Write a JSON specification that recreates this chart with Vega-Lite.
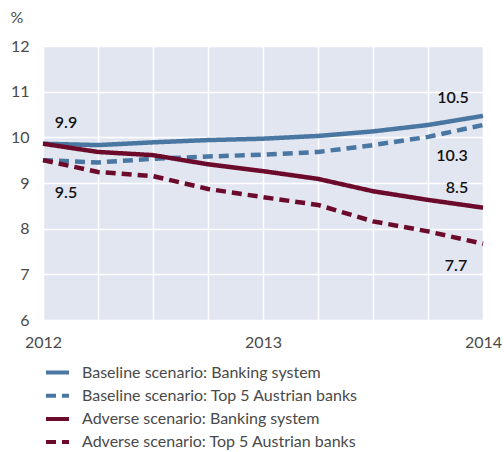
{
  "$schema": "https://vega.github.io/schema/vega-lite/v6.json",
  "width": 440,
  "height": 274,
  "autosize": {"type": "none"},
  "padding": {"left": 43, "top": 46, "right": 21, "bottom": 132},
  "background": "white",
  "config": {
    "font": "Lato",
    "view": {"fill": "#e2e6f1", "stroke": null},
    "axis": {"labelFont": "Lato", "labelColor": "#4a4a4a", "labelFontSize": 16, "domain": false, "ticks": false, "gridColor": "white", "gridWidth": 1.5, "gridOpacity": 1}
  },
  "data": {
    "values": [
      {"t": 2012, "s": "Baseline scenario: Banking system", "v": 9.86},
      {"t": 2012.25, "s": "Baseline scenario: Banking system", "v": 9.83},
      {"t": 2012.5, "s": "Baseline scenario: Banking system", "v": 9.89},
      {"t": 2012.75, "s": "Baseline scenario: Banking system", "v": 9.94},
      {"t": 2013, "s": "Baseline scenario: Banking system", "v": 9.97},
      {"t": 2013.25, "s": "Baseline scenario: Banking system", "v": 10.03},
      {"t": 2013.5, "s": "Baseline scenario: Banking system", "v": 10.13},
      {"t": 2013.75, "s": "Baseline scenario: Banking system", "v": 10.27},
      {"t": 2014, "s": "Baseline scenario: Banking system", "v": 10.47},
      {"t": 2012, "s": "Baseline scenario: Top 5 Austrian banks", "v": 9.5},
      {"t": 2012.25, "s": "Baseline scenario: Top 5 Austrian banks", "v": 9.45},
      {"t": 2012.5, "s": "Baseline scenario: Top 5 Austrian banks", "v": 9.53},
      {"t": 2012.75, "s": "Baseline scenario: Top 5 Austrian banks", "v": 9.58},
      {"t": 2013, "s": "Baseline scenario: Top 5 Austrian banks", "v": 9.62},
      {"t": 2013.25, "s": "Baseline scenario: Top 5 Austrian banks", "v": 9.68},
      {"t": 2013.5, "s": "Baseline scenario: Top 5 Austrian banks", "v": 9.83},
      {"t": 2013.75, "s": "Baseline scenario: Top 5 Austrian banks", "v": 10.01},
      {"t": 2014, "s": "Baseline scenario: Top 5 Austrian banks", "v": 10.27},
      {"t": 2012, "s": "Adverse scenario: Banking system", "v": 9.86},
      {"t": 2012.25, "s": "Adverse scenario: Banking system", "v": 9.68},
      {"t": 2012.5, "s": "Adverse scenario: Banking system", "v": 9.61},
      {"t": 2012.75, "s": "Adverse scenario: Banking system", "v": 9.41},
      {"t": 2013, "s": "Adverse scenario: Banking system", "v": 9.26},
      {"t": 2013.25, "s": "Adverse scenario: Banking system", "v": 9.09},
      {"t": 2013.5, "s": "Adverse scenario: Banking system", "v": 8.82},
      {"t": 2013.75, "s": "Adverse scenario: Banking system", "v": 8.63},
      {"t": 2014, "s": "Adverse scenario: Banking system", "v": 8.46},
      {"t": 2012, "s": "Adverse scenario: Top 5 Austrian banks", "v": 9.5},
      {"t": 2012.25, "s": "Adverse scenario: Top 5 Austrian banks", "v": 9.24},
      {"t": 2012.5, "s": "Adverse scenario: Top 5 Austrian banks", "v": 9.15},
      {"t": 2012.75, "s": "Adverse scenario: Top 5 Austrian banks", "v": 8.87},
      {"t": 2013, "s": "Adverse scenario: Top 5 Austrian banks", "v": 8.69},
      {"t": 2013.25, "s": "Adverse scenario: Top 5 Austrian banks", "v": 8.52},
      {"t": 2013.5, "s": "Adverse scenario: Top 5 Austrian banks", "v": 8.16},
      {"t": 2013.75, "s": "Adverse scenario: Top 5 Austrian banks", "v": 7.94},
      {"t": 2014, "s": "Adverse scenario: Top 5 Austrian banks", "v": 7.67}
    ]
  },
  "encoding": {
    "x": {"field": "t", "type": "quantitative", "scale": {"domain": [2012, 2014], "nice": false, "zero": false},
      "axis": {"title": null, "values": [2012, 2012.25, 2012.5, 2012.75, 2013, 2013.25, 2013.5, 2013.75, 2014], "labelExpr": "datum.value % 1 == 0 ? format(datum.value, 'd') : ''", "labelFlush": false, "labelPadding": 14, "labelOverlap": false}},
    "y": {"field": "v", "type": "quantitative", "scale": {"domain": [6, 12], "nice": false, "zero": false},
      "axis": {"title": "%", "titleAngle": 0, "titleAlign": "left", "titleBaseline": "middle", "titleX": -33, "titleY": -29, "titleFont": "Lato", "titleFontSize": 16, "titleFontWeight": "normal", "titleColor": "#4a4a4a", "values": [6, 7, 8, 9, 10, 11, 12], "labelPadding": 14, "format": "d"}}
  },
  "layer": [
    {
      "mark": {"type": "line", "strokeWidth": 4.5},
      "encoding": {
        "color": {"field": "s", "type": "nominal", "title": null,
          "scale": {"domain": ["Baseline scenario: Banking system", "Baseline scenario: Top 5 Austrian banks", "Adverse scenario: Banking system", "Adverse scenario: Top 5 Austrian banks"], "range": ["#4a76a2", "#4a76a2", "#6b0a2a", "#6b0a2a"]},
          "legend": {"orient": "none", "legendX": 1, "legendY": 313, "direction": "vertical", "symbolType": "stroke", "symbolSize": 529, "symbolStrokeWidth": 4, "labelFontSize": 16, "labelColor": "#4a4a4a", "labelFont": "Lato", "labelOffset": 11, "rowPadding": 1.2, "labelLimit": 400}},
        "strokeDash": {"field": "s", "type": "nominal", "title": null,
          "scale": {"domain": ["Baseline scenario: Banking system", "Baseline scenario: Top 5 Austrian banks", "Adverse scenario: Banking system", "Adverse scenario: Top 5 Austrian banks"], "range": [[1, 0], [10, 6], [1, 0], [10, 6]]}},
        "detail": {"field": "s"}
      }
    },
    {
      "transform": [{"filter": "datum.t == 2012 && datum.s == 'Baseline scenario: Banking system'"}],
      "mark": {"type": "text", "dx": 23, "dy": -21, "fontSize": 16, "fontWeight": 600, "color": "#111111"},
      "encoding": {"text": {"field": "v", "type": "quantitative", "format": ".1f"}}
    },
    {
      "transform": [{"filter": "datum.t == 2012 && datum.s == 'Baseline scenario: Top 5 Austrian banks'"}],
      "mark": {"type": "text", "dx": 23, "dy": 33, "fontSize": 16, "fontWeight": 600, "color": "#111111"},
      "encoding": {"text": {"field": "v", "type": "quantitative", "format": ".1f"}}
    },
    {
      "transform": [{"filter": "datum.t == 2014 && datum.s == 'Baseline scenario: Banking system'"}],
      "mark": {"type": "text", "dx": -30, "dy": -18, "fontSize": 16, "fontWeight": 600, "color": "#111111"},
      "encoding": {"text": {"field": "v", "type": "quantitative", "format": ".1f"}}
    },
    {
      "transform": [{"filter": "datum.t == 2014 && datum.s == 'Baseline scenario: Top 5 Austrian banks'"}],
      "mark": {"type": "text", "dx": -31, "dy": 31, "fontSize": 16, "fontWeight": 600, "color": "#111111"},
      "encoding": {"text": {"field": "v", "type": "quantitative", "format": ".1f"}}
    },
    {
      "transform": [{"filter": "datum.t == 2014 && datum.s == 'Adverse scenario: Banking system'"}],
      "mark": {"type": "text", "dx": -26, "dy": -20, "fontSize": 16, "fontWeight": 600, "color": "#111111"},
      "encoding": {"text": {"field": "v", "type": "quantitative", "format": ".1f"}}
    },
    {
      "transform": [{"filter": "datum.t == 2014 && datum.s == 'Adverse scenario: Top 5 Austrian banks'"}],
      "mark": {"type": "text", "dx": -27, "dy": 22, "fontSize": 16, "fontWeight": 600, "color": "#111111"},
      "encoding": {"text": {"field": "v", "type": "quantitative", "format": ".1f"}}
    }
  ]
}
